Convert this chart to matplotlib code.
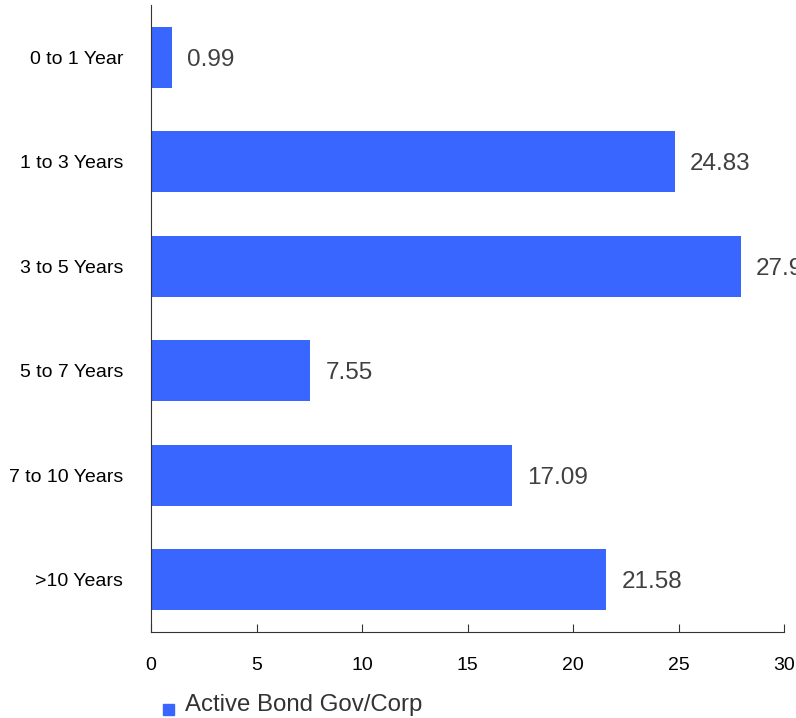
import matplotlib.pyplot as plt
from matplotlib.patches import Rectangle

categories = ['0 to 1 Year', '1 to 3 Years', '3 to 5 Years', '5 to 7 Years',
              '7 to 10 Years', '>10 Years']
values = [0.99, 24.83, 27.96, 7.55, 17.09, 21.58]
series_name = 'Active Bond Gov/Corp'
xticks = [0, 5, 10, 15, 20, 25, 30]

bar_color = '#3966ff'
font = 'Liberation Sans'

fig = plt.figure(figsize=(7.96, 7.18), dpi=100)
ax = fig.add_axes([151 / 796, 1 - 632 / 718, 633 / 796, 627 / 718])

pos = list(range(len(categories)))
ax.barh(pos, values, height=0.58, color=bar_color)
for y, v in zip(pos, values):
    ax.text(v + 0.72, y, f'{v:.2f}', va='center_baseline', ha='left',
            fontsize=17.5, color='#404040', family=font, clip_on=False)

ax.set_xlim(0, 30)
ax.set_ylim(5.5, -0.5)
ax.set_xticks(xticks)
ax.set_xticklabels([str(t) for t in xticks], family=font, fontsize=14)
ax.set_yticks(pos)
ax.set_yticklabels(categories, family=font, fontsize=14)
ax.tick_params(axis='x', direction='in', length=6, pad=18, color='#333333')
ax.tick_params(axis='y', length=0, pad=20)
for s in ['top', 'right']:
    ax.spines[s].set_visible(False)
for s in ['left', 'bottom']:
    ax.spines[s].set_color('#333333')

fig.patches.append(Rectangle((163 / 796, 1 - 715 / 718), 11 / 796, 11 / 718,
                             transform=fig.transFigure, color=bar_color))
fig.text(185 / 796, 1 - 705 / 718, series_name, va='center', ha='left',
         fontsize=17.3, color='#333333', family=font)

fig.savefig('out.png', dpi=100)
